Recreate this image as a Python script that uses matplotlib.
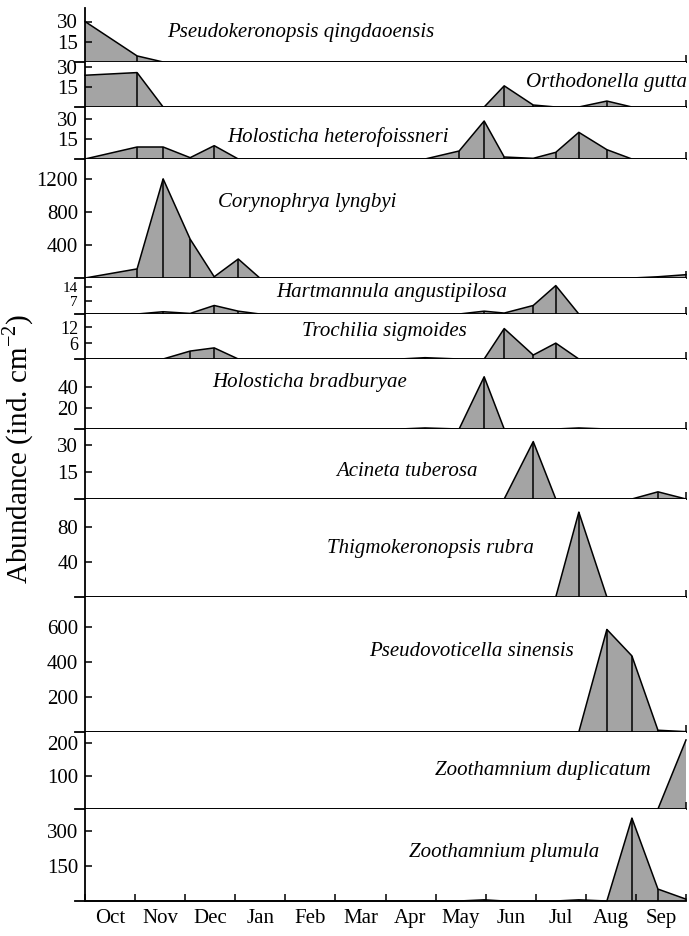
import numpy as np
import matplotlib
matplotlib.use('Agg')
import matplotlib.pyplot as plt

plt.rcParams['font.family'] = ['Liberation Serif', 'DejaVu Serif']
plt.rcParams['mathtext.fontset'] = 'custom'
plt.rcParams['mathtext.rm'] = 'Liberation Serif'

# sampling dates, in months from 1 Oct
dates = [0.0, 1.04, 1.56, 2.10, 2.58, 3.06, 3.49, 6.29, 6.79, 7.47,
         7.97, 8.37, 8.95, 9.40, 9.86, 10.42, 10.92, 11.44, 12.0]

months = ['Oct', 'Nov', 'Dec', 'Jan', 'Feb', 'Mar', 'Apr', 'May', 'Jun', 'Jul', 'Aug', 'Sep']

species = ['Pseudokeronopsis qingdaoensis', 'Orthodonella gutta', 'Holosticha heterofoissneri',
           'Corynophrya lyngbyi', 'Hartmannula angustipilosa', 'Trochilia sigmoides',
           'Holosticha bradburyae', 'Acineta tuberosa', 'Thigmokeronopsis rubra',
           'Pseudovoticella sinensis', 'Zoothamnium duplicatum', 'Zoothamnium plumula']

p_qingdaoensis = [30, 4.5, 0, 0, 0, 0, 0, 0, 0, 0, 0, 0, 0, 0, 0, 0, 0, 0, 0]
o_gutta = [24, 26, 0, 0, 0, 0, 0, 0, 0, 0, 0, 16, 1.5, 0, 0, 4.5, 0, 0, 0]
h_heterofoissneri = [0, 9, 9, 1, 10, 0, 0, 0, 0, 6, 28.5, 1.5, 0.5, 5, 20, 7, 0, 0, 0]
c_lyngbyi = [0, 110, 1200, 470, 15, 230, 0, 0, 0, 0, 0, 0, 0, 0, 0, 0, 0, 15, 40]
h_angustipilosa = [0, 0, 1.2, 0.3, 4.5, 1.5, 0, 0, 0, 0, 1.5, 0.5, 4.5, 15, 0, 0, 0, 0, 0]
t_sigmoides = [0, 0, 0, 3, 4.2, 0, 0, 0, 0.5, 0, 0, 11.5, 1.5, 6, 0, 0, 0, 0, 0]
h_bradburyae = [0, 0, 0, 0, 0, 0, 0, 0, 1, 0, 50, 0, 0, 0, 1, 0, 0, 0, 0]
a_tuberosa = [0, 0, 0, 0, 0, 0, 0, 0, 0, 0, 0, 0, 32, 0, 0, 0, 0, 4, 0]
t_rubra = [0, 0, 0, 0, 0, 0, 0, 0, 0, 0, 0, 0, 0, 0, 97, 0, 0, 0, 0]
p_sinensis = [0, 0, 0, 0, 0, 0, 0, 0, 0, 0, 0, 0, 0, 0, 0, 585, 434, 10, 2]
z_duplicatum = [0, 0, 0, 0, 0, 0, 0, 0, 0, 0, 0, 0, 0, 0, 0, 0, 0, 0, 209]
z_plumula = [0, 0, 0, 0, 0, 0, 0, 0, 0, 0, 5, 0, 0, 0, 5, 0, 355, 51, 8]

series = [p_qingdaoensis, o_gutta, h_heterofoissneri, c_lyngbyi, h_angustipilosa, t_sigmoides,
          h_bradburyae, a_tuberosa, t_rubra, p_sinensis, z_duplicatum, z_plumula]

yticks = [[15, 30], [15, 30], [15, 30], [400, 800, 1200], [7, 14], [6, 12],
          [20, 40], [15, 30], [40, 80], [200, 400, 600], [100, 200], [150, 300]]
ymax = [40, 34, 39, 1440, 19, 17, 67, 39, 112, 770, 233, 394]
heights = [54, 45, 52, 119, 36, 45, 70, 70, 98, 135, 77, 92]
# tick label size per panel (the thin panels need smaller digits)
tick_size = [15, 15, 15, 15, 11, 13, 15, 15, 15, 15, 15, 15]

# label anchor (px in the 689x936 image): x, centre y, alignment
label_pos = [(167, 33, 'left'), (687, 82, 'right'), (227, 137, 'left'), (218, 202, 'left'),
             (276, 292, 'left'), (302, 331, 'left'), (212, 383, 'left'), (336, 472, 'left'),
             (327, 549, 'left'), (369, 652, 'left'), (435, 771, 'left'), (409, 852, 'left')]

W, H = 689, 936
fig = plt.figure(figsize=(W / 100, H / 100), dpi=100)
gs = fig.add_gridspec(len(series), 1, height_ratios=heights, hspace=0,
                      left=85 / W, right=686 / W, top=1 - 8 / H, bottom=1 - 901 / H)

fill_col = '#a4a4a4'
lw = 1.3
for i, vals in enumerate(series):
    ax = fig.add_subplot(gs[i])
    x = np.array(dates)
    y = np.array(vals, dtype=float)
    ax.fill_between(x, 0, y, facecolor=fill_col, edgecolor='none', zorder=1)
    ax.plot(x, y, color='black', lw=1.1, zorder=2, clip_on=False)
    inner = (y > 0) & (x > 0) & (x < 12)
    ax.vlines(x[inner], 0, y[inner], color='black', lw=1.1, zorder=2)
    ax.set_xlim(0, 12)
    ax.set_ylim(0, ymax[i])
    for s in ['top', 'right']:
        ax.spines[s].set_visible(False)
    ax.spines['left'].set_linewidth(lw)
    ax.spines['bottom'].set_linewidth(lw)
    ax.plot([-0.2, 0], [0, 0], color='black', lw=lw, clip_on=False)
    ax.set_yticks(yticks[i])
    ax.tick_params(axis='y', direction='in', length=5, width=1.1,
                   labelsize=tick_size[i], pad=5)
    if i < len(series) - 1:
        ax.set_xticks([12])
        ax.tick_params(axis='x', direction='in', length=5, width=1.1, labelbottom=False)
    else:
        ax.set_xticks(np.arange(0, 13))
        ax.set_xticklabels([])
        ax.set_xticks(np.arange(12) + 0.5, minor=True)
        ax.set_xticklabels(months, minor=True)
        ax.tick_params(axis='x', which='major', direction='in', length=5, width=1.1)
        ax.tick_params(axis='x', which='minor', length=0, labelsize=15, pad=6)
    lx, ly, ha = label_pos[i]
    fig.text(lx / W, 1 - ly / H, species[i], style='italic', fontsize=15,
             ha=ha, va='center')

fig.text(18 / W, 1 - 449 / H, 'Abundance (ind. cm$^{-2}$)', rotation=90,
         ha='center', va='center', fontsize=21)

fig.savefig('out.png', dpi=100)
